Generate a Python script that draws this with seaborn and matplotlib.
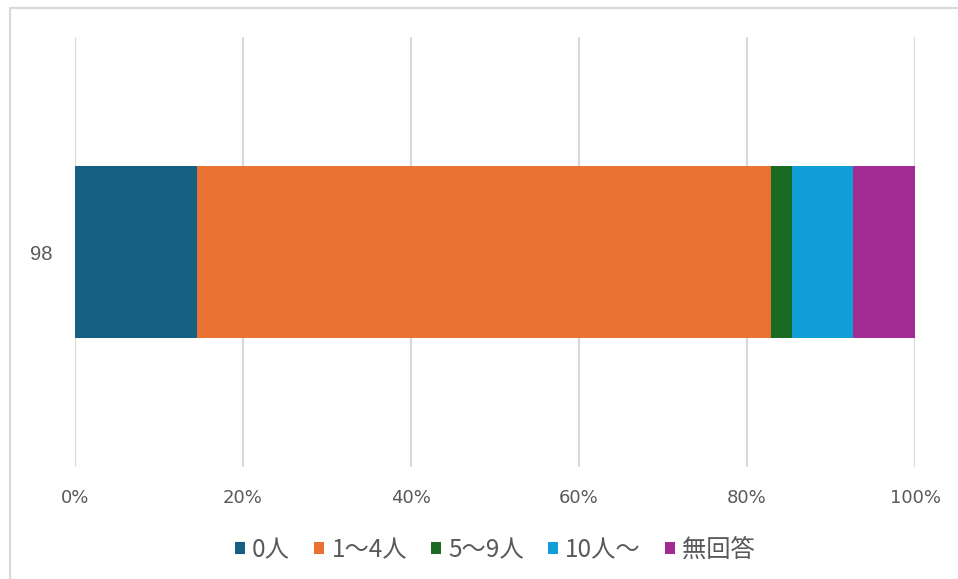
import matplotlib
matplotlib.use("Agg")
import matplotlib.pyplot as plt
from matplotlib.patches import Patch, Rectangle
import seaborn as sns
import pandas as pd
import numpy as np

# Share of respondents by group size (percent)
categories = ["0人", "1～4人", "5～9人", "10人～", "無回答"]
shares = [14.5, 68.4, 2.4, 7.3, 7.4]
row_label = ["98"]
colors = ["#156082", "#E97132", "#196B24", "#0F9ED5", "#A02B93"]
tick_values = [0, 20, 40, 60, 80, 100]
tick_labels = ["0%", "20%", "40%", "60%", "80%", "100%"]

sns.set_theme(style="white")
plt.rcParams["font.family"] = ["Noto Sans CJK JP", "DejaVu Sans"]

fig = plt.figure(figsize=(9.58, 5.79), dpi=100)
ax = fig.add_axes([75 / 958, 112 / 579, 840 / 958, 430 / 579])

# Stacked bar: draw cumulative totals from the last segment back to the first
cum = np.cumsum(shares)
for i in range(len(categories) - 1, -1, -1):
    df = pd.DataFrame({"value": [cum[i]], "row": row_label})
    sns.barplot(data=df, x="value", y="row", orient="h", color=colors[i],
                saturation=1, width=0.402, ax=ax, linewidth=0, zorder=3)

ax.set_xlim(0, 100)
ax.set_ylim(0.5, -0.5)
ax.set_xticks(tick_values)
ax.set_xticklabels(tick_labels, fontsize=13, color="#595959",
                   family=["Liberation Sans Narrow", "DejaVu Sans"])
ax.tick_params(axis="x", length=0, pad=15.5)
ax.tick_params(axis="y", length=0, pad=16.5)
for lbl in ax.get_yticklabels():
    lbl.set_fontsize(14.5)
    lbl.set_color("#595959")
    lbl.set_family(["Liberation Sans", "DejaVu Sans"])
ax.set_xlabel("")
ax.set_ylabel("")
ax.xaxis.grid(True, color="#D9D9D9", linewidth=1.5, zorder=0)
ax.set_axisbelow(True)
for s in ax.spines.values():
    s.set_visible(False)

handles = [Patch(facecolor=c, edgecolor="none", label=l) for c, l in zip(colors, categories)]
fig.legend(handles=handles, loc="center", bbox_to_anchor=(495 / 958, 1 - 550 / 579),
           ncol=5, frameon=False, fontsize=17.5, handlelength=0.4, handleheight=0.4,
           handletextpad=0.3, columnspacing=1.0, labelcolor="#595959")

# Outer chart border
fig.add_artist(Rectangle((10 / 958, -0.05), 1.2, 1 - 7.5 / 579 + 0.05,
                         transform=fig.transFigure, fill=False,
                         edgecolor="#D9D9D9", linewidth=1.5))

fig.savefig("out.png", dpi=100)
